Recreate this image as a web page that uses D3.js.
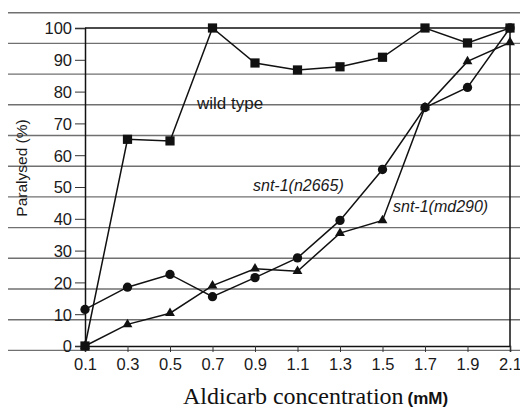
<!DOCTYPE html>
<html>
<head>
<meta charset="utf-8">
<script src="https://cdn.jsdelivr.net/npm/d3@7"></script>
<style>
  body { margin: 0; background: #fff; }
  svg { display: block; }
  .tick text { font-family: "Liberation Sans", Arial, sans-serif; font-size: 16.5px; fill: #1a1a1a; }
</style>
</head>
<body>
<div class="plot"></div>
<script>
// Aldicarb concentration (mM)
const concentrations = [0.1, 0.3, 0.5, 0.7, 0.9, 1.1, 1.3, 1.5, 1.7, 1.9, 2.1];
const yTicks = [0, 10, 20, 30, 40, 50, 60, 70, 80, 90, 100];

// % paralysed
const wildType = [0, 65, 64.5, 100, 89, 86.8, 87.8, 90.8, 100, 95.3, 100];
const n2665 = [11.5, 18.5, 22.5, 15.5, 21.5, 27.7, 39.5, 55.5, 75, 81.3, 100];
const md290 = [0, 6.8, 10.3, 19, 24.3, 23.5, 35.5, 39.5, 75, 89.5, 95.5];

const W = 520, H = 409;

const svg = d3.select(".plot")
  .append("svg")
    .attr("width", W)
    .attr("height", H);

const x = d3.scaleLinear().domain([0.1, 2.1]).range([85, 510]);
const y = d3.scaleLinear().domain([0, 100]).range([346, 28]);

// ruled background lines of the scanned page
const ruled = d3.range(12).map(i => 12.7 + i * 30.7);
svg.append("g")
  .attr("class", "ruled")
  .selectAll("line")
  .data(ruled)
  .join("line")
    .attr("x1", 8)
    .attr("x2", W)
    .attr("y1", d => d)
    .attr("y2", d => d)
    .style("stroke", "#707070")
    .style("stroke-width", "1.4px");

// frame (top and right)
svg.append("path")
  .attr("d", `M${x(0.1)},${y(100)}H${x(2.1)}V${y(0)}`)
  .attr("fill", "none")
  .attr("stroke", "#111")
  .attr("stroke-width", 1.5);

// axes
const xAxis = d3.axisBottom(x)
  .tickValues(concentrations)
  .tickFormat(d3.format(".1f"))
  .tickSize(6)
  .tickPadding(6);
const gx = svg.append("g")
  .attr("transform", `translate(0,${y(0)})`)
  .call(xAxis);
gx.select(".domain").attr("stroke", "#111").attr("stroke-width", 1.5);
gx.selectAll(".tick line").attr("stroke", "#333");

const yAxis = d3.axisLeft(y)
  .tickValues(yTicks)
  .tickSize(10)
  .tickPadding(3);
const gy = svg.append("g")
  .attr("transform", `translate(${x(0.1)},0)`)
  .call(yAxis);
gy.select(".domain").attr("stroke", "#111").attr("stroke-width", 1.5);
gy.selectAll(".tick line").attr("stroke", "#333");
gy.selectAll(".tick text").attr("dy", "0.36em");

// series
const line = d3.line()
  .x((d, i) => x(concentrations[i]))
  .y(d => y(d));

[wildType, n2665, md290].forEach(s => {
  svg.append("path")
    .datum(s)
    .attr("d", line)
    .attr("fill", "none")
    .attr("stroke", "#111")
    .attr("stroke-width", 1.5);
});

const sqSym = d3.symbol().type(d3.symbolSquare).size(85);
const ciSym = d3.symbol().type(d3.symbolCircle).size(68);
const trSym = d3.symbol().type(d3.symbolTriangle).size(42);

function markers(data, sym) {
  svg.append("g")
    .selectAll("path")
    .data(data)
    .join("path")
      .attr("transform", (d, i) => `translate(${x(concentrations[i])},${y(d)})`)
      .attr("d", sym)
      .attr("fill", "#111");
}
markers(md290, trSym);
markers(n2665, ciSym);
markers(wildType, sqSym);

// labels
const lab = svg.append("g")
  .style("font-family", "'Liberation Sans', Arial, sans-serif")
  .attr("fill", "#1a1a1a");
lab.append("text")
  .attr("x", 197).attr("y", 109)
  .style("font-size", "17px")
  .text("wild type");
lab.append("text")
  .attr("x", 253).attr("y", 191)
  .style("font-size", "16px")
  .style("font-style", "italic")
  .text("snt-1(n2665)");
lab.append("text")
  .attr("x", 393).attr("y", 212)
  .style("font-size", "16px")
  .style("font-style", "italic")
  .text("snt-1(md290)");

// axis titles
lab.append("text")
  .attr("transform", "translate(27,168) rotate(-90)")
  .attr("text-anchor", "middle")
  .style("font-size", "15.5px")
  .text("Paralysed (%)");

const xt = svg.append("text")
  .attr("x", 183).attr("y", 404)
  .attr("fill", "#111");
xt.append("tspan")
  .style("font-family", "'Liberation Serif', 'Times New Roman', serif")
  .style("font-size", "24px")
  .text("Aldicarb concentration");
xt.append("tspan")
  .attr("dx", 4)
  .style("font-family", "'Liberation Sans', Arial, sans-serif")
  .style("font-size", "17px")
  .style("font-weight", "bold")
  .text("(mM)");
</script>
</body>
</html>
